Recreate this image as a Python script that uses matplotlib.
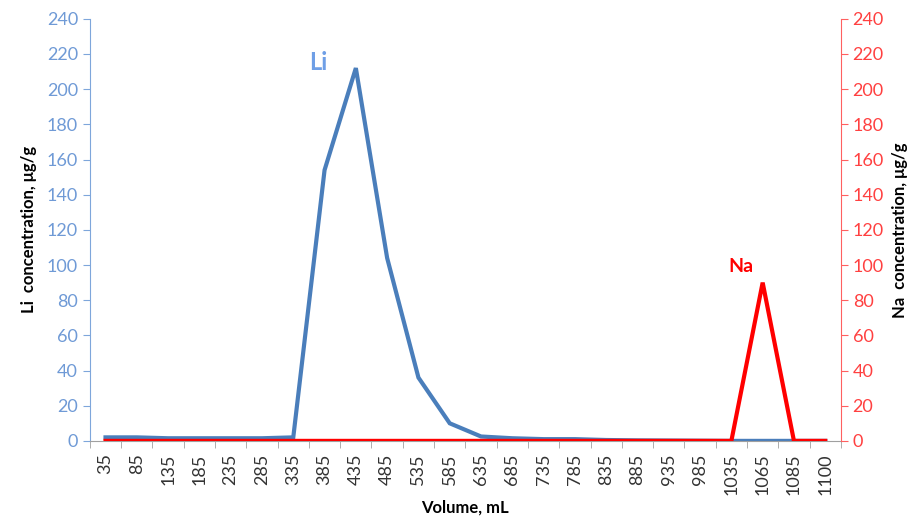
import matplotlib.pyplot as plt
import numpy as np

plt.rcParams['font.family'] = ['Lato', 'DejaVu Sans']

volumes = ['35', '85', '135', '185', '235', '285', '335', '385', '435', '485', '535', '585',
           '635', '685', '735', '785', '835', '885', '935', '985', '1035', '1065', '1085', '1100']
li_conc = [2, 2, 1.5, 1.5, 1.5, 1.5, 2, 154, 212, 104, 36, 10,
           2.5, 1.5, 1, 1, 0.5, 0.3, 0.2, 0.1, 0, 0, 0, 0]
na_conc = [0, 0, 0, 0, 0, 0, 0, 0, 0, 0, 0, 0,
           0, 0, 0, 0, 0, 0, 0, 0, 0, 90, 0, 0]

li_color = '#4a7ebb'
li_axis = '#7ea6db'
na_color = '#ff0000'
na_axis = '#ff6060'

fig = plt.figure(figsize=(9.17, 5.23), dpi=100)
ax = fig.add_axes([0.098, 0.157, 0.819, 0.807])
ax2 = ax.twinx()

x = np.arange(len(volumes))
ax.plot(x, li_conc, color=li_color, lw=3, solid_joinstyle='miter', zorder=2)
ax2.plot(x, na_conc, color=na_color, lw=3, solid_joinstyle='miter', zorder=3)

for a in (ax, ax2):
    a.set_xlim(-0.5, len(volumes) - 0.5)
    a.set_ylim(0, 240)
    a.set_yticks(np.arange(0, 241, 20))
    a.spines['top'].set_visible(False)

ax.spines['right'].set_visible(False)
ax.spines['left'].set_color(li_axis)
ax.spines['bottom'].set_color('#a0a0a0')
ax2.spines['left'].set_visible(False)
ax2.spines['bottom'].set_visible(False)
ax2.spines['right'].set_color(na_axis)

# category labels centred, tick marks between categories
ax.set_xticks(x)
ax.set_xticklabels(volumes, rotation=90, fontsize=13, color='#333333')
ax.tick_params(axis='x', length=0, pad=9)
ax.set_xticks(np.arange(-0.5, len(volumes), 1), minor=True)
ax.tick_params(axis='x', which='minor', length=5, color='#a0a0a0')

ax.tick_params(axis='y', colors=li_axis, labelsize=13, length=5)
ax.tick_params(axis='y', labelcolor='#6f9ad6')
ax2.tick_params(axis='y', colors=na_axis, labelsize=13, length=5)
ax2.tick_params(axis='y', labelcolor='#ff4040')

ax.set_xlabel('Volume, mL', fontsize=12, fontweight='bold', labelpad=3)
ax.set_ylabel('Li  concentration, μg/g', fontsize=12, fontweight='bold', labelpad=7)
ax2.set_ylabel('Na  concentration, μg/g', fontsize=12, fontweight='bold', labelpad=6)

ax.text(6.8, 215, 'Li', color='#6f9fe6', fontsize=17, fontweight='bold', ha='center', va='center')
ax2.text(20.3, 99, 'Na', color=na_color, fontsize=14, fontweight='bold', ha='center', va='center')

fig.savefig('out.png', dpi=100)
